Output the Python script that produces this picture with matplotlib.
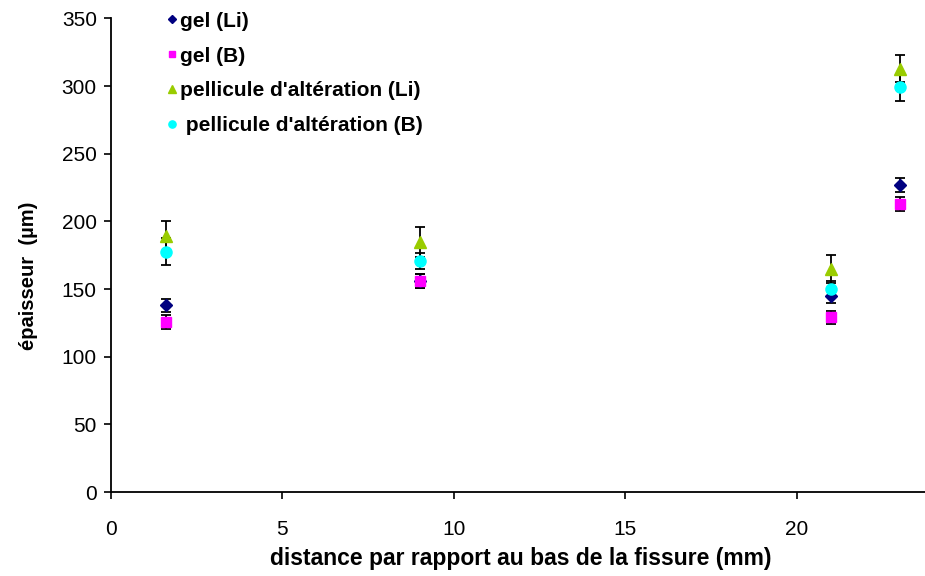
import numpy as np
import matplotlib
matplotlib.use('Agg')
import matplotlib.pyplot as plt

# distance from the bottom of the crack (mm)
distance = [1.6, 9.0, 21.0, 23.0]

# thickness (um) and error bars for each series
gel_li = [138, 156, 145, 227]
gel_li_err = [5, 5, 5, 5]
gel_b = [125.5, 156, 129, 213]
gel_b_err = [5, 5, 5, 5]
pell_li = [189, 185, 165, 313]
pell_li_err = [11, 11, 10.5, 10]
pell_b = [177.5, 170.5, 150, 299]
pell_b_err = [10, 6, 6, 10]

labels = ['gel (Li)', 'gel (B)', "pellicule d'altération (Li)", " pellicule d'altération (B)"]
ytick_vals = [0, 50, 100, 150, 200, 250, 300, 350]
xtick_vals = [0, 5, 10, 15, 20]

plt.rcParams['font.family'] = ['Liberation Sans', 'DejaVu Sans']

fig = plt.figure(figsize=(9.25, 5.76), dpi=100)
ax = fig.add_axes([0.1197, 0.1458, 0.8803, 0.8221])

series = [
    (gel_li, gel_li_err, 'D', '#000080', 6.5),
    (gel_b, gel_b_err, 's', '#FF00FF', 7.5),
    (pell_li, pell_li_err, '^', '#99CC00', 8.5),
    (pell_b, pell_b_err, 'o', '#00FFFF', 8),
]
for (vals, err, mk, col, ms), lab in zip(series, labels):
    ax.errorbar(distance, vals, yerr=err, fmt=mk, color=col, mec=col, ms=ms,
                ecolor='black', elinewidth=1.3, capsize=3.5, capthick=1.3,
                label=lab)

ax.set_xlim(0, 23.73)
ax.set_ylim(0, 350)
ax.set_xticks(xtick_vals)
ax.set_yticks(ytick_vals)
ax.spines['top'].set_visible(False)
ax.spines['right'].set_visible(False)
ax.spines['left'].set_linewidth(1.3)
ax.spines['bottom'].set_linewidth(1.3)
ax.tick_params(direction='out', length=5, width=1.2, labelsize=15, colors='black')
ax.tick_params(axis='x', pad=15)
ax.tick_params(axis='y', pad=5)

ax.set_xlabel('distance par rapport au bas de la fissure (mm)', fontsize=16.5, fontweight='bold')
ax.xaxis.set_label_coords(521 / 925, 1 - 559 / 576, transform=fig.transFigure)
ax.xaxis.label.set_va('center')
ax.set_ylabel('épaisseur  (µm)', fontsize=14.5, fontweight='bold')
ax.yaxis.set_label_coords(38 / 925, 1 - 276 / 576, transform=fig.transFigure)

handles, labs = ax.get_legend_handles_labels()
handles = [h[0] for h in handles]
leg = ax.legend(handles, labs, loc='upper left', bbox_to_anchor=(149 / 925, 1 + 7 / 576),
                bbox_transform=fig.transFigure, frameon=False, markerscale=0.65,
                handlelength=0.4, handletextpad=0.2, labelspacing=0.76,
                prop={'weight': 'bold', 'size': 15})

fig.savefig('out.png', dpi=100)
